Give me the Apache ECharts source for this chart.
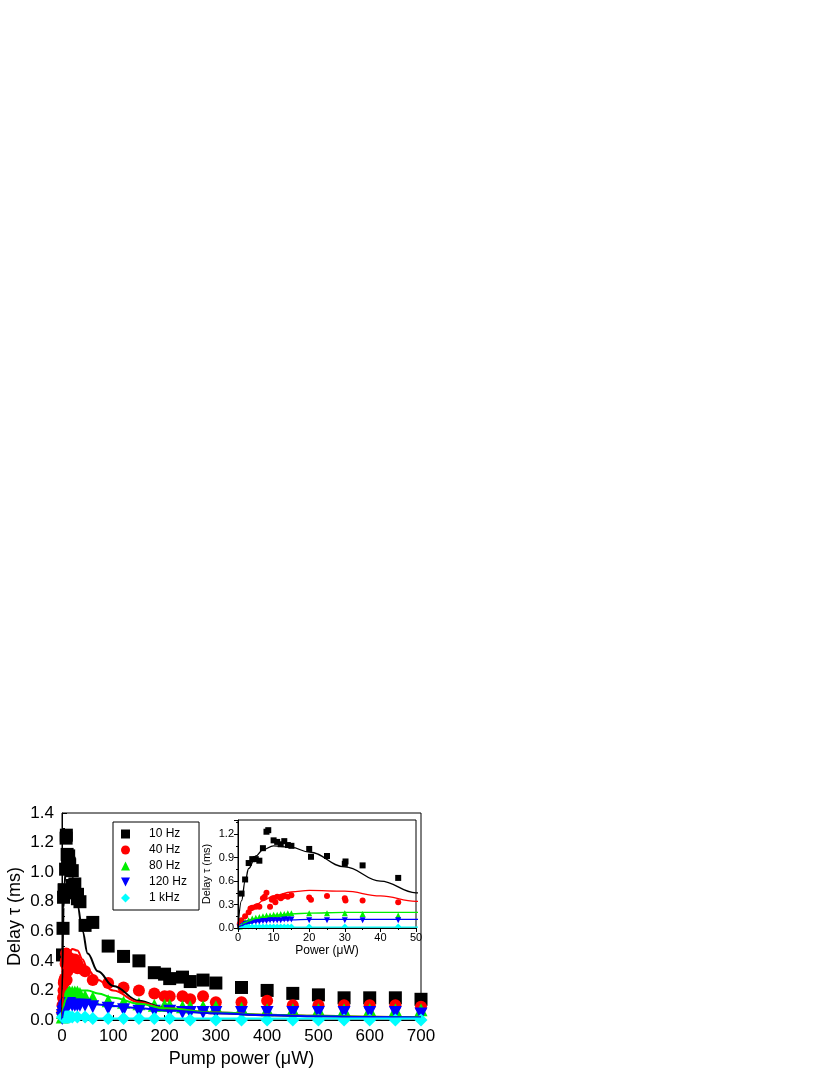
<!DOCTYPE html><html><head><meta charset="utf-8">
<script src="https://cdn.jsdelivr.net/npm/echarts@6/dist/echarts.min.js"></script>
<style>html,body{margin:0;background:#fff}#c{width:830px;height:1075px}</style></head><body><div id="c"></div>
<script>
const names=['10 Hz','40 Hz','80 Hz','120 Hz','1 kHz'];
const colors=['#000000','#ff0000','#00ee00','#0000ff','#00ffff'];
const symbols=['rect','circle','triangle','path://M0,0L10,0L5,10Z','diamond'];
const d10=[[1,0.44],[2,0.62],[3,0.83],[4,0.88],[5,0.88],[6,0.86],[7,1.02],[8,1.23],[8.5,1.25],[10,1.12],[11,1.10],[12,1.07],[13,1.11],[14,1.06],[15,1.05],[20,1.01],[20.5,0.91],[25,0.92],[30,0.82],[30.2,0.85],[35,0.80],[45,0.64],[60,0.66],[90,0.50],[120,0.43],[150,0.40],[180,0.32],[200,0.31],[210,0.28],[235,0.29],[250,0.26],[275,0.27],[300,0.25],[350,0.22],[400,0.20],[450,0.18],[500,0.17],[550,0.15],[600,0.15],[650,0.15],[700,0.14]];
const d40=[[0.5,0.05],[1,0.1],[2,0.15],[3,0.2],[3.5,0.25],[4,0.26],[5,0.27],[5.5,0.28],[6,0.27],[7,0.38],[7.5,0.40],[8,0.45],[9,0.27],[9.5,0.36],[10,0.38],[10.5,0.33],[11,0.40],[12,0.38],[12.5,0.40],[13,0.41],[14,0.40],[15,0.42],[20,0.39],[20.5,0.36],[25,0.41],[30,0.38],[30.2,0.35],[35,0.35],[45,0.33],[60,0.27],[90,0.25],[120,0.22],[150,0.20],[180,0.18],[200,0.16],[210,0.16],[235,0.16],[250,0.14],[275,0.16],[300,0.12],[350,0.12],[400,0.13],[450,0.10],[500,0.10],[550,0.10],[600,0.10],[650,0.10],[700,0.09]];
const d80=[[0.5,0.02],[1,0.05],[2,0.08],[3,0.1],[4,0.12],[5,0.13],[6,0.14],[7,0.15],[8,0.16],[9,0.16],[10,0.17],[11,0.17],[12,0.18],[13,0.18],[14,0.19],[15,0.19],[20,0.19],[25,0.19],[30,0.19],[35,0.18],[45,0.16],[60,0.15],[90,0.13],[120,0.12],[150,0.11],[180,0.10],[200,0.10],[210,0.10],[235,0.09],[250,0.09],[275,0.09],[300,0.09],[350,0.08],[400,0.07],[450,0.07],[500,0.07],[550,0.07],[600,0.07],[650,0.07],[700,0.07]];
const d120=[[0.5,0.01],[1,0.03],[2,0.05],[3,0.06],[4,0.07],[5,0.08],[6,0.08],[7,0.09],[8,0.09],[9,0.1],[10,0.1],[11,0.1],[12,0.1],[13,0.11],[14,0.11],[15,0.11],[20,0.1],[25,0.1],[30,0.1],[35,0.1],[45,0.1],[60,0.09],[90,0.08],[120,0.07],[150,0.06],[180,0.06],[210,0.06],[235,0.05],[250,0.05],[275,0.05],[300,0.05],[350,0.05],[400,0.05],[450,0.05],[500,0.05],[550,0.05],[600,0.05],[650,0.05],[700,0.04]];
const d1k=[[1,0.02],[2,0.02],[3,0.02],[4,0.02],[5,0.02],[6,0.02],[7,0.02],[8,0.02],[9,0.02],[10,0.02],[11,0.02],[12,0.02],[13,0.02],[14,0.02],[15,0.02],[20,0.02],[30,0.02],[45,0.02],[60,0.01],[90,0.01],[120,0.01],[150,0.01],[180,0.01],[210,0.01],[250,0.0],[300,0.0],[350,0.0],[400,0.0],[450,0.0],[500,0.0],[550,0.0],[600,0.0],[650,0.0],[700,0.0]];
const fitX=[0,1,2,3,5,7,10,15,20,30,40,50,70,100,150,200,300,400,500,600,700];
const fit10=[0,0.35,0.6,0.76,0.92,1.0,1.05,1.03,0.97,0.78,0.6,0.45,0.33,0.23,0.13,0.08,0.045,0.032,0.025,0.02,0.017];
const fit40=[0,0.08,0.15,0.21,0.29,0.35,0.41,0.46,0.48,0.47,0.41,0.34,0.27,0.2,0.12,0.08,0.05,0.035,0.028,0.022,0.018];
const fit80=[0,0.04,0.07,0.09,0.12,0.14,0.16,0.18,0.19,0.2,0.2,0.2,0.18,0.15,0.11,0.08,0.05,0.035,0.028,0.022,0.018];
const fit120=[0,0.03,0.05,0.06,0.08,0.09,0.1,0.105,0.11,0.11,0.11,0.11,0.105,0.095,0.08,0.065,0.045,0.033,0.025,0.02,0.017];
const fit1k=[0,0.004,0.007,0.009,0.01,0.01,0.01,0.01,0.01,0.01,0.01,0.01,0.01,0.01,0.01,0.01,0.01,0.01,0.01,0.01,0.01];
const data=[d10,d40,d80,d120,d1k];
const fits=[fit10,fit40,fit80,fit120,fit1k];
const font='Liberation Sans, Arial, sans-serif';
function ax(o){return Object.assign({axisLine:{show:true,onZero:false,lineStyle:{color:'#000'}},axisTick:{inside:true,lineStyle:{color:'#000'}},minorTick:{show:true,splitNumber:2,lineStyle:{color:'#000'}},splitLine:{show:false}},o);}
const series=[];
[0,1].forEach(g=>{
  const inset=g===1;
  fits.forEach((f,i)=>series.push({type:'line',xAxisIndex:g,yAxisIndex:g,data:fitX.map((x,k)=>[x,f[k]]),smooth:0.4,smoothMonotone:'x',showSymbol:false,symbol:'none',clip:true,lineStyle:{color:colors[i],width:inset?1.3:2},z:inset?11:3,silent:true}));
  data.forEach((d,i)=>series.push({type:'scatter',name:names[i],xAxisIndex:g,yAxisIndex:g,data:inset?d.filter(p=>p[0]<=50):d,symbol:symbols[i],symbolSize:inset?6:(i==1?12:13),itemStyle:{color:colors[i],opacity:1},clip:inset,z:inset?10:2}));
});
const chart=echarts.init(document.getElementById('c'));
chart.setOption({animation:false,
grid:[{left:62,right:409,top:813,bottom:55,show:true,borderColor:'#000',borderWidth:1},{left:238,width:178,top:820,height:108,show:true,borderColor:'#000',borderWidth:1,backgroundColor:'#fff',z:5}],
legend:{data:names.map((n,i)=>({name:n,icon:symbols[i]})),orient:'vertical',left:113,top:822,itemWidth:9,itemHeight:9,itemGap:4,padding:[6,12,6,8],borderColor:'#000',borderWidth:1,textStyle:{fontFamily:font,fontSize:12,color:'#000',padding:[0,0,0,14]}},
xAxis:[ax({gridIndex:0,type:'value',min:0,max:700,interval:100,name:'Pump power (\u03bcW)',nameLocation:'middle',nameGap:30,nameTextStyle:{fontFamily:font,fontSize:18,color:'#000'},axisLabel:{fontFamily:font,fontSize:17,color:'#000',margin:8},axisTick:{inside:true,length:5}}),
ax({gridIndex:1,type:'value',min:0,max:50,interval:10,name:'Power (\u03bcW)',nameLocation:'middle',nameGap:17,nameTextStyle:{fontFamily:font,fontSize:12,color:'#000'},axisLabel:{fontFamily:font,fontSize:11,color:'#000',margin:4},axisTick:{inside:false,length:4},minorTick:{show:true,splitNumber:2,length:2},z:12})],
yAxis:[ax({gridIndex:0,type:'value',min:0,max:1.4,interval:0.2,name:'Delay \u03c4 (ms)',nameLocation:'middle',nameGap:38,nameTextStyle:{fontFamily:font,fontSize:18,color:'#000'},axisLabel:{fontFamily:font,fontSize:17,color:'#000',formatter:v=>v.toFixed(1)},axisTick:{inside:true,length:5}}),
ax({gridIndex:1,type:'value',min:0,max:1.38,interval:0.3,name:'Delay \u03c4 (ms)',nameLocation:'middle',nameGap:26,nameTextStyle:{fontFamily:font,fontSize:11,color:'#000'},axisLabel:{fontFamily:font,fontSize:11,color:'#000',margin:4,showMaxLabel:false,formatter:v=>v.toFixed(1)},axisTick:{inside:false,length:4},minorTick:{show:true,splitNumber:2,length:2},z:12})],
series});
</script></body></html>
